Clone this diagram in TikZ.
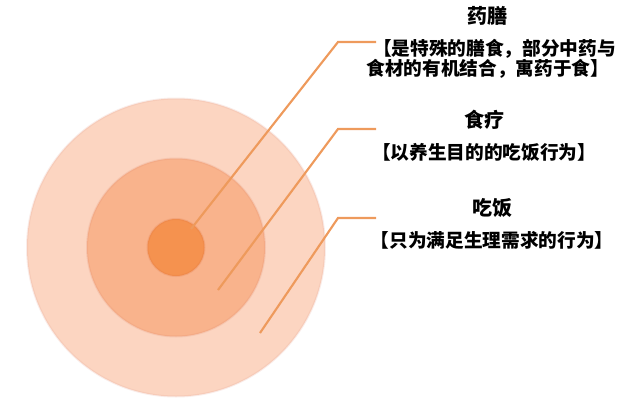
\documentclass[tikz,border=0pt]{standalone}
\usepackage{fontspec}
\newfontfamily\cjk{Noto Sans CJK SC}
\usepackage{tikz}
\usetikzlibrary{positioning,calc}

\definecolor{anilloA}{HTML}{FCD5C1}
\definecolor{anilloB}{HTML}{F9B38C}
\definecolor{anilloC}{HTML}{F5924F}
\definecolor{linea}{HTML}{EE9A5C}

\begin{document}
\begin{tikzpicture}[x=0.75pt, y=-0.75pt,
    titulo/.style={font=\cjk\bfseries\fontsize{15pt}{16pt}\selectfont},
    texto/.style={font=\cjk\bfseries\fontsize{14pt}{13.5pt}\selectfont, align=center},
    guia/.style={draw=linea, line width=1.6pt}]
    \useasboundingbox (0,0) rectangle (629,404);

    % Definimos los circulos
    \foreach \n/\r/\c in {1/149/anilloA, 2/89/anilloB, 3/28.5/anilloC} {
        \node[circle, fill=\c, draw=\c!85!red!90!black, draw opacity=0.2, line width=1.5pt,
              inner sep=0pt, minimum size=2*\r*0.75pt] (c\n) at (176,247.5) {};
    }

    % Textos
    \node[titulo] (t1) at (487,16) {药膳};
    \node[texto] (d1) at (491,59) {\hspace*{5pt}【是特殊的膳食，部分中药与\\食材的有机结合，寓药于食】\hspace*{5pt}};
    \node[titulo] (t2) at (484,120) {食疗};
    \node[texto] (d2) at (484,152) {【以养生目的的吃饭行为】};
    \node[titulo] (t3) at (492,208) {吃饭};
    \node[texto] (d3) at (492,240) {【只为满足生理需求的行为】};

    % Puntos de las lineas
    \coordinate (p1) at (191,229);   \coordinate (k1) at (338,42);  \coordinate (e1) at (376,42);
    \coordinate (p2) at (218,290);   \coordinate (k2) at (338,129); \coordinate (e2) at (376,129);
    \coordinate (p3) at (260,333);   \coordinate (k3) at (338,218); \coordinate (e3) at (376,218);

    % Dibujamos las lineas
    \foreach \i in {1,2,3} {
        \draw[guia] (p\i) -- (k\i) -- (e\i);
    }
\end{tikzpicture}
\end{document}
